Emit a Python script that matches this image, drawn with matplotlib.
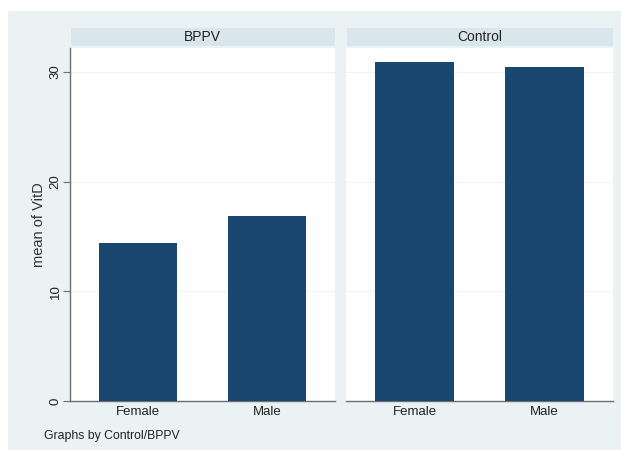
import matplotlib
matplotlib.use("Agg")
import matplotlib.pyplot as plt
from matplotlib.patches import Rectangle

plt.rcParams['font.family'] = ['Liberation Sans', 'DejaVu Sans']

groups = ["BPPV", "Control"]
categories = ["Female", "Male"]
values = {"BPPV": [14.43, 16.86], "Control": [30.87, 30.47]}
yticks = [0, 10, 20, 30]
ylabel = "mean of VitD"
note = "Graphs by Control/BPPV"

W, H = 621, 450
fig = plt.figure(figsize=(W / 100, H / 100), dpi=100)
fig.patch.set_facecolor("white")

BG = "#EAF2F3"
STRIP = "#D9E6EB"
BAR = "#1A476F"
AX = "#6E6E6E"

def fx(px):
    return px / W

def fy(py):
    return 1 - py / H

# background region
fig.patches.append(Rectangle((fx(8), 0), 1 - fx(8), fy(11), transform=fig.transFigure,
                             facecolor=BG, edgecolor="none", zorder=-10))

panels = [(70, 335), (346, 613)]
top, bottom = 48, 401
for i, (g, (x0, x1)) in enumerate(zip(groups, panels)):
    ax = fig.add_axes([fx(x0), fy(bottom), fx(x1 - x0), (bottom - top) / H])
    ax.set_facecolor("white")
    xs = [1, 2]
    ax.bar(xs, values[g], width=0.61, color=BAR, zorder=3)
    ax.set_xlim(0.47, 2.53)
    ax.set_yticks(yticks)
    ax.yaxis.grid(True, color="#EEF3F5", linewidth=0.9, zorder=0)
    ax.set_xticks(xs)
    ax.set_xticklabels(categories, fontsize=9.5, color="#222222")
    ax.tick_params(axis="x", length=0, pad=3.5)
    for s in ["top", "right"]:
        ax.spines[s].set_visible(False)
    ax.spines["bottom"].set_color(AX)
    ax.spines["bottom"].set_linewidth(1.0)
    if i == 0:
        ax.spines["left"].set_color(AX)
        ax.spines["left"].set_linewidth(1.0)
        ax.tick_params(axis="y", length=5, color=AX, width=0.8, pad=1)
        ax.set_yticklabels([str(t) for t in yticks], rotation=90, va="center",
                           fontsize=9.5, color="#222222")
        ax.set_ylabel(ylabel, fontsize=10.5, color="#333333", labelpad=3)
    else:
        ax.spines["left"].set_visible(False)
        ax.tick_params(axis="y", length=0, labelleft=False)
    ax.set_ylim(0, (401 - 48) / ((401 - 72) / 30))
    # strip
    fig.patches.append(Rectangle((fx(x0 + 1), fy(46)), fx(x1 - x0 - 1), (46 - 28) / H,
                                 transform=fig.transFigure, facecolor=STRIP,
                                 edgecolor="none", zorder=1))
    fig.text(fx((x0 + x1) / 2), fy(37), g, ha="center", va="center",
             fontsize=10, color="#222222")

fig.text(fx(44), fy(436), note, ha="left", va="center", fontsize=8.8, color="#222222")

fig.savefig("out.png", dpi=100, facecolor=fig.get_facecolor())
